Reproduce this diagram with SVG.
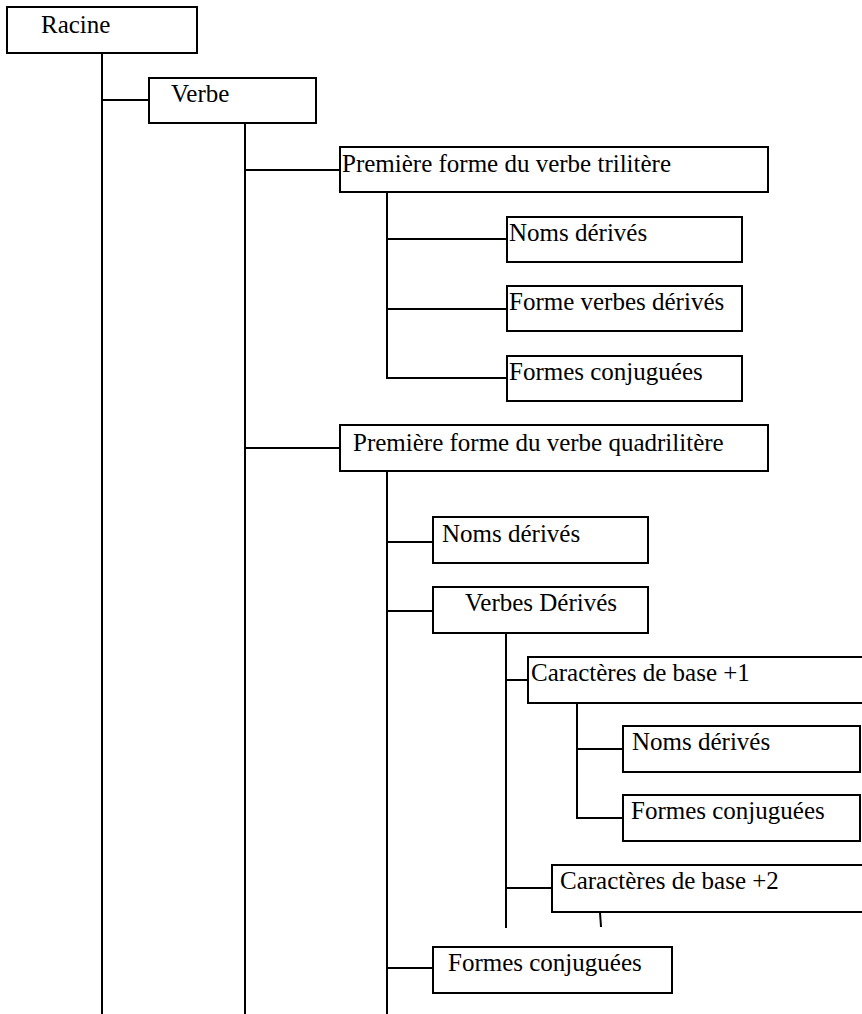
<svg xmlns="http://www.w3.org/2000/svg" width="862" height="1014" viewBox="0 0 862 1014">
  <style>
    .box { fill: #ffffff; stroke: #000000; stroke-width: 2; }
    .open { fill: none; stroke: #000000; stroke-width: 2; }
    .lbl { font-family: "Liberation Serif", "Times New Roman", serif; font-size: 25px; fill: #000000; }
    .wire { fill: none; stroke: #000000; stroke-width: 2; }
  </style>
  <rect width="862" height="1014" fill="#ffffff"/>

  <!-- tree connectors -->
  <g id="connectors">
    <!-- Racine trunk -->
    <path class="wire" d="M102,53 V1014 M102,100 H149"/>
    <!-- Verbe trunk -->
    <path class="wire" d="M245,123 V1014 M245,170 H340 M245,448 H340"/>
    <!-- trilitere branch -->
    <path class="wire" d="M387,192 V378 H507 M387,239 H507 M387,309 H507"/>
    <!-- quadrilitere branch -->
    <path class="wire" d="M387,471 V1014 M387,542 H433 M387,611 H433 M387,968 H433"/>
    <!-- Verbes Derives branch -->
    <path class="wire" d="M506,633 V928 M506,680 H528 M506,888 H552"/>
    <!-- Caracteres de base +1 branch -->
    <path class="wire" d="M577,703 V818 H623 M577,749 H623"/>
    <!-- stub below Caracteres de base +2 -->
    <path class="wire" d="M600,912 L601,927"/>
  </g>

  <g id="n-racine">
    <rect class="box" x="7" y="7" width="190" height="46"/>
    <text class="lbl" x="41" y="33">Racine</text>
  </g>
  <g id="n-verbe">
    <rect class="box" x="149" y="78" width="167" height="45"/>
    <text class="lbl" x="171" y="102">Verbe</text>
  </g>
  <g id="n-trilitere">
    <rect class="box" x="340" y="147" width="428" height="45"/>
    <text class="lbl" x="342" y="172">Première forme du verbe trilitère</text>
  </g>
  <g id="n-tri-noms">
    <rect class="box" x="507" y="217" width="235" height="45"/>
    <text class="lbl" x="509" y="241">Noms dérivés</text>
  </g>
  <g id="n-tri-verbes">
    <rect class="box" x="507" y="286" width="235" height="45"/>
    <text class="lbl" x="509" y="310">Forme verbes dérivés</text>
  </g>
  <g id="n-tri-conj">
    <rect class="box" x="507" y="356" width="235" height="45"/>
    <text class="lbl" x="509" y="380">Formes conjuguées</text>
  </g>
  <g id="n-quadrilitere">
    <rect class="box" x="340" y="425" width="428" height="46"/>
    <text class="lbl" x="353" y="451">Première forme du verbe quadrilitère</text>
  </g>
  <g id="n-quad-noms">
    <rect class="box" x="433" y="517" width="215" height="46"/>
    <text class="lbl" x="442" y="542">Noms dérivés</text>
  </g>
  <g id="n-quad-verbes">
    <rect class="box" x="433" y="587" width="215" height="46"/>
    <text class="lbl" x="465" y="611">Verbes Dérivés</text>
  </g>
  <g id="n-base1">
    <path class="open" d="M870,657 H528 V703 H870"/>
    <text class="lbl" x="531" y="681">Caractères de base +1</text>
  </g>
  <g id="n-base1-noms">
    <rect class="box" x="623" y="726" width="237" height="46"/>
    <text class="lbl" x="632" y="750">Noms dérivés</text>
  </g>
  <g id="n-base1-conj">
    <rect class="box" x="623" y="795" width="237" height="46"/>
    <text class="lbl" x="631" y="819">Formes conjuguées</text>
  </g>
  <g id="n-base2">
    <path class="open" d="M870,865 H552 V912 H870"/>
    <text class="lbl" x="560" y="889">Caractères de base +2</text>
  </g>
  <g id="n-quad-conj">
    <rect class="box" x="433" y="947" width="239" height="46"/>
    <text class="lbl" x="448" y="971">Formes conjuguées</text>
  </g>
</svg>
